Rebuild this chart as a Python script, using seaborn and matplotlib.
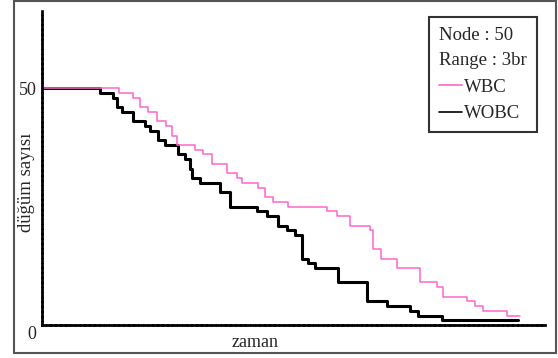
import matplotlib
matplotlib.use("Agg")
import matplotlib.pyplot as plt
import seaborn as sns
import pandas as pd
from matplotlib.patches import Rectangle

# ---- data ----
wbc_time = [0, 15.3, 18.1, 19.5, 21.1, 22.9, 24.7, 25.8, 26.8, 30.4, 32.0, 33.8,
            36.8, 38.8, 39.8, 42.9, 44.3, 45.9, 48.9, 56.7, 58.6, 61.2, 65.2,
            65.8, 67.4, 70.6, 75.1, 78.5, 79.7, 84.5, 86.1, 87.7, 92.5, 95.0]
wbc_nodes = [50, 49, 48, 46, 45, 43, 42, 40, 38, 37, 36, 34,
             32, 31, 30, 29, 27, 26, 25, 24, 23, 21, 20,
             16, 14, 12, 9, 8, 6, 5, 4, 3, 2, 2]

wobc_time = [0, 11.5, 14.1, 14.9, 15.9, 18.1, 20.5, 21.5, 23.1, 24.5, 27.0, 28.4,
             29.4, 29.8, 31.4, 35.4, 37.4, 42.7, 44.7, 46.9, 48.7, 50.3, 51.7,
             52.9, 54.3, 58.8, 64.6, 68.6, 73.2, 74.8, 79.5, 94.6]
wobc_nodes = [50, 49, 48, 46, 45, 43, 42, 41, 39, 38, 36, 35,
              33, 31, 30, 28, 25, 24, 23, 21, 20, 19, 14,
              13, 12, 9, 5, 4, 3, 2, 1, 1]

legend_title = "Node : 50\nRange : 3br"
series_names = ["WBC", "WOBC"]
ytick_vals = [50]

df_wbc = pd.DataFrame({"zaman": wbc_time, "nodes": wbc_nodes})
df_wobc = pd.DataFrame({"zaman": wobc_time, "nodes": wobc_nodes})

sns.set_style("white")
plt.rcParams["font.family"] = ["Liberation Serif", "DejaVu Serif"]

fig = plt.figure(figsize=(5.58, 3.58), dpi=100)
ax = fig.add_axes([0.0753, 0.0922, 0.9014, 0.8798])

sns.lineplot(data=df_wobc, x="zaman", y="nodes", ax=ax, color="black",
             linewidth=2.2, drawstyle="steps-post", label=series_names[1])
sns.lineplot(data=df_wbc, x="zaman", y="nodes", ax=ax, color="#ff66cc",
             linewidth=1.1, drawstyle="steps-post", label=series_names[0])

ax.set_xlim(0, 100)
ax.set_ylim(0, 66.5)
ax.set_xticks([])
ax.set_yticks(ytick_vals)
ax.set_yticklabels([str(v) for v in ytick_vals], fontsize=13)
ax.tick_params(axis="y", length=0, pad=4)
ax.annotate("0", xy=(0, 0), xycoords="data", xytext=(-10, -10),
            textcoords="offset pixels", ha="center", va="center", fontsize=13)

ax.set_xlabel("zaman", fontsize=13)
ax.xaxis.set_label_coords(0.424, -0.056)
ax.xaxis.label.set_va("center")
ax.set_ylabel("düğüm sayısı", fontsize=13.5)
ax.yaxis.set_label_coords(-0.03, 0.454)
ax.yaxis.label.set_va("center")

for side in ["top", "right"]:
    ax.spines[side].set_visible(False)
for side in ["left", "bottom"]:
    sp = ax.spines[side]
    sp.set_color("black")
    sp.set_linewidth(2.0)
    sp.set_linestyle((0, (1.0, 0.75)))

handles, labels = ax.get_legend_handles_labels()
order = [labels.index(n) for n in series_names]
leg = ax.legend([handles[i] for i in order], [labels[i] for i in order],
                title=legend_title, loc="upper right",
                bbox_to_anchor=(0.984, 0.978), borderaxespad=0, alignment="left",
                fontsize=13.5, title_fontsize=13.5, frameon=True,
                fancybox=False, edgecolor="black", handlelength=1.25,
                handletextpad=0.1, labelspacing=0.5, borderpad=0.55)
leg.get_frame().set_linewidth(1.5)
leg.get_title().set_linespacing(1.6)
for line in leg.get_lines():
    line.set_linewidth(1.2)

# outer frame
fig.patches.append(Rectangle((0.025, 0.014), 0.971, 0.983, transform=fig.transFigure,
                             fill=False, edgecolor="#555555", linewidth=1.5))

fig.savefig("out.png", dpi=100)
